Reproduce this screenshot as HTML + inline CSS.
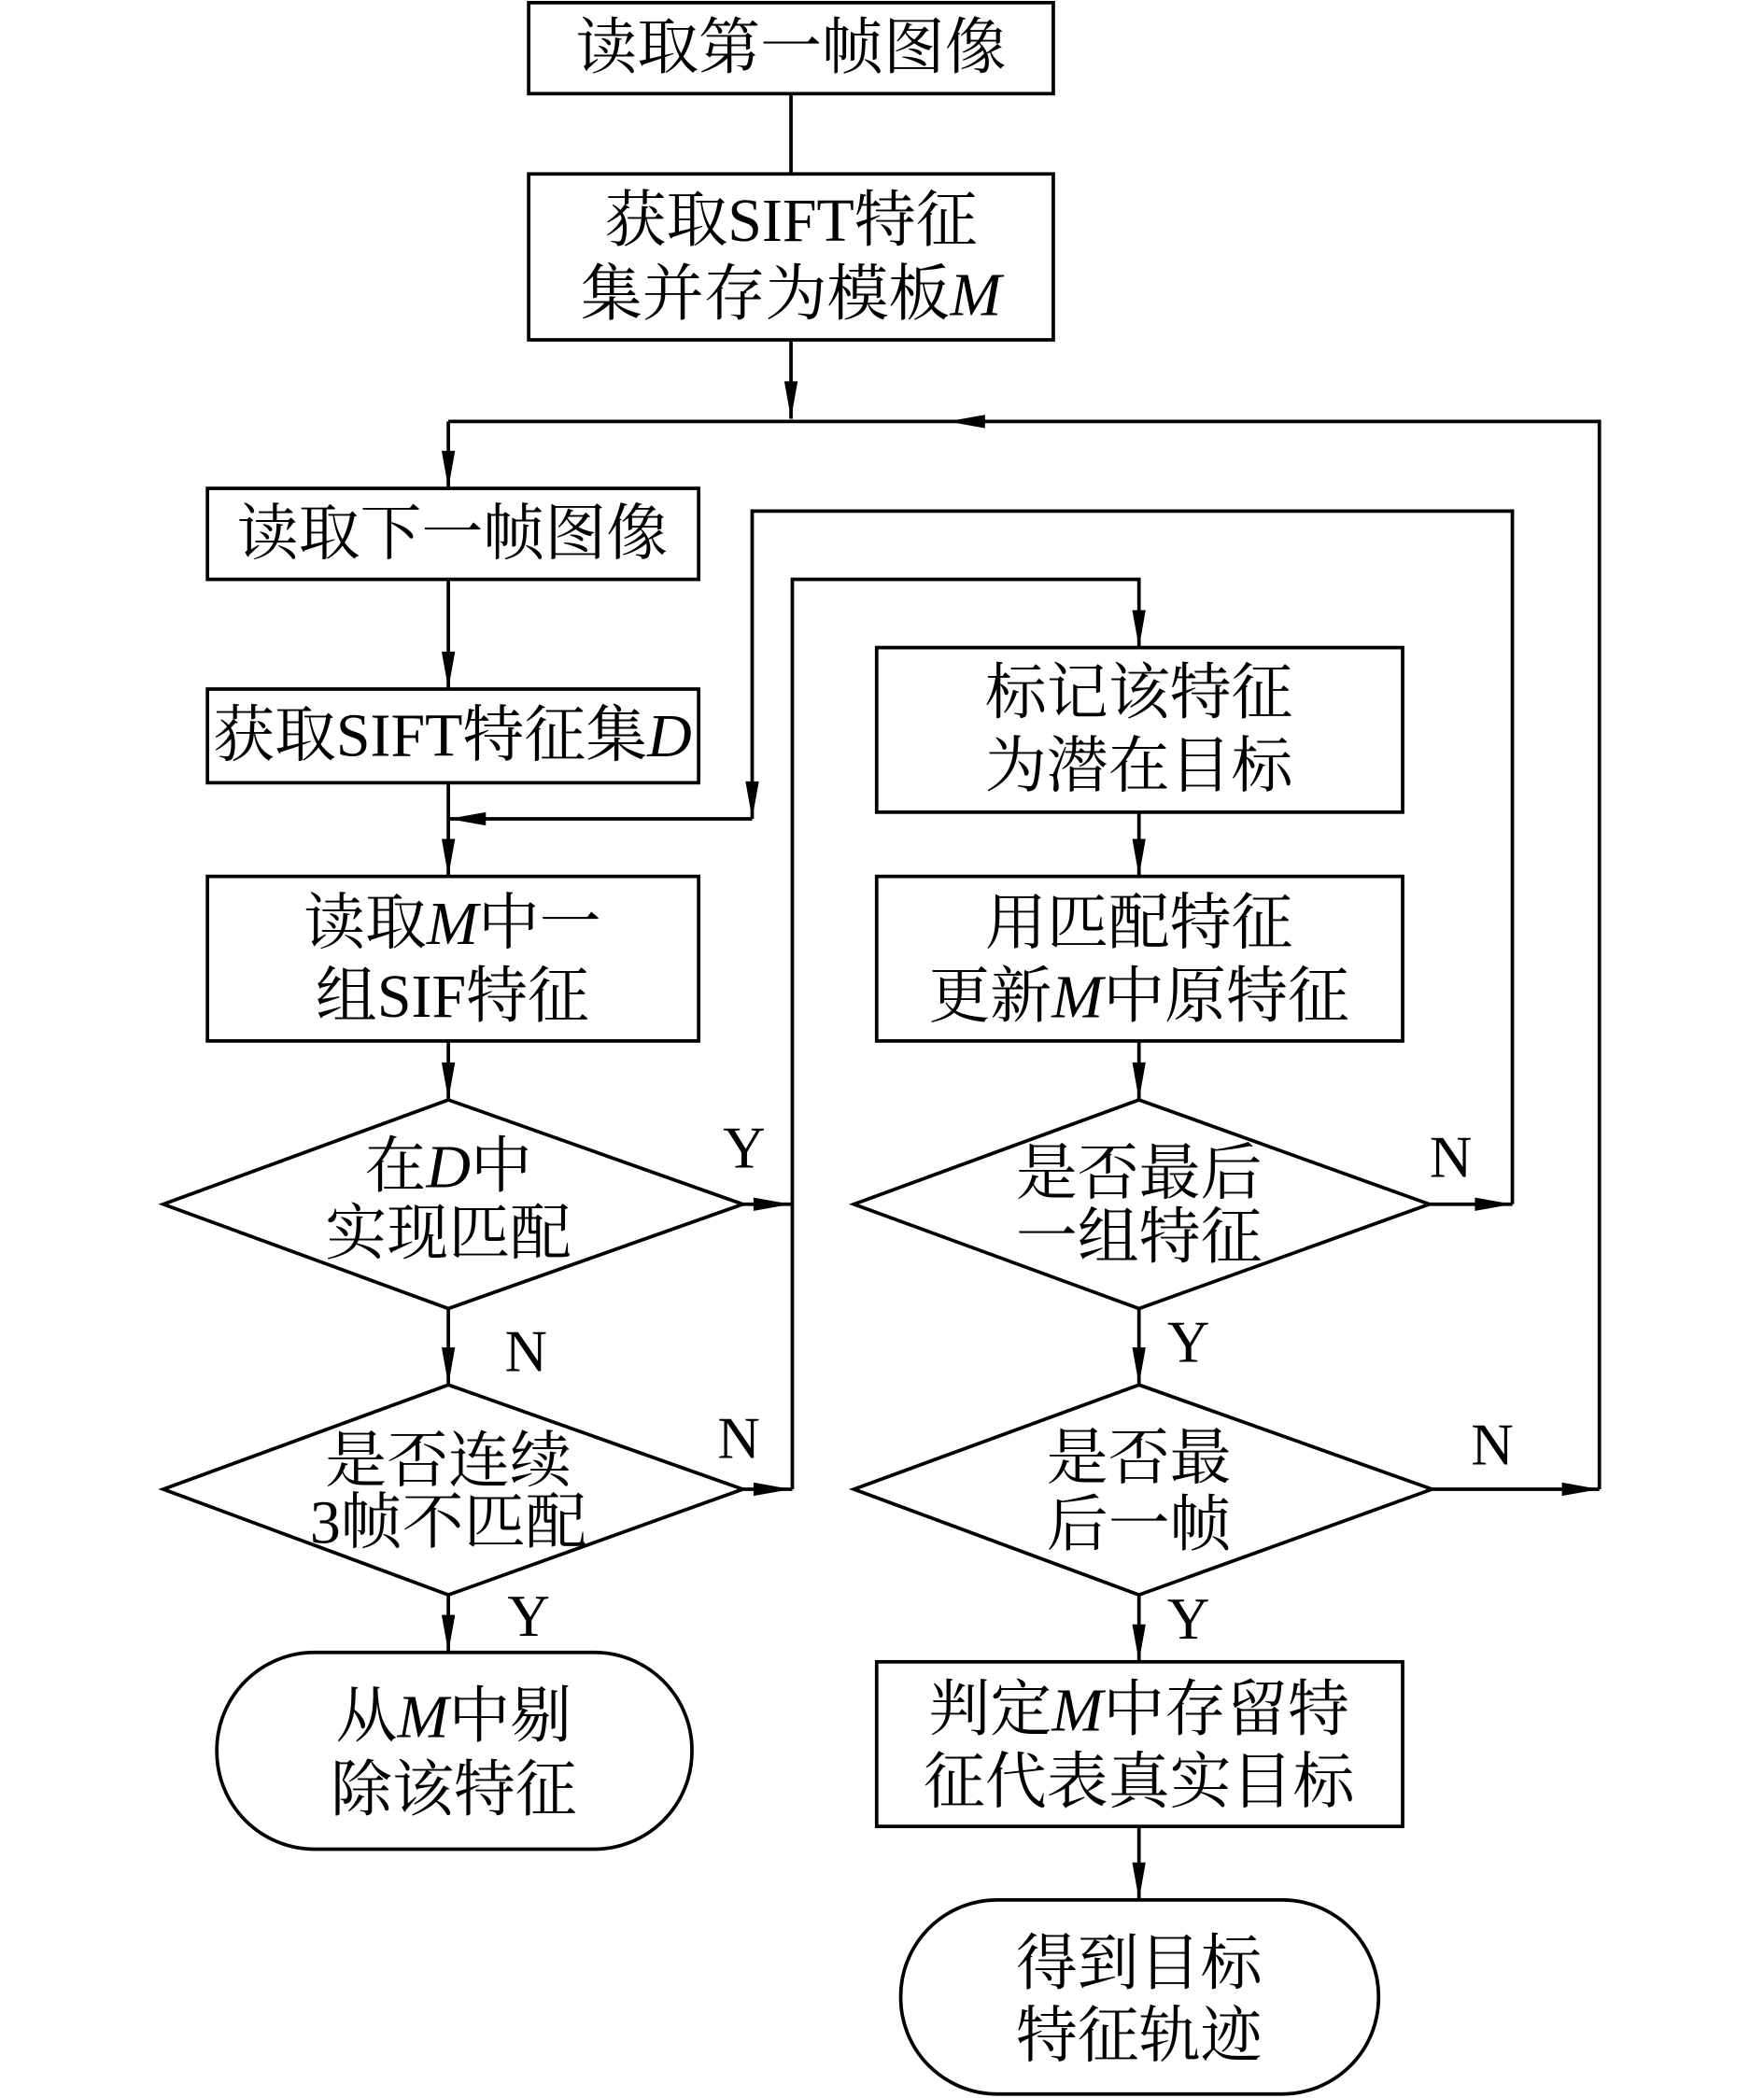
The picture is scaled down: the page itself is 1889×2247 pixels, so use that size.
<!DOCTYPE html>
<html><head><meta charset="utf-8"><style>
html,body{margin:0;padding:0;background:#fff;}
svg{display:block;}
text{font-family:"Liberation Serif","Noto Serif CJK SC",serif;font-size:46px;fill:#000;text-anchor:middle;dominant-baseline:central;}
.l{font-size:44px;}
</style></head><body>
<svg width="1889" height="2247" viewBox="0 0 1318 1568" preserveAspectRatio="none" xmlns="http://www.w3.org/2000/svg">
<g fill="none" stroke="#000" stroke-width="2.6">
<rect x="395" y="2" width="392" height="68"/>
<rect x="395" y="130" width="392" height="124"/>
<rect x="155" y="365" width="367" height="68"/>
<rect x="155" y="515" width="367" height="70"/>
<rect x="155" y="655" width="367" height="123"/>
<polygon points="335,822 555,900 335,978 122,900"/>
<polygon points="335,1035 555,1113 335,1192 122,1113"/>
<rect x="162" y="1235" width="355" height="147" rx="73"/>
<rect x="655" y="484" width="393" height="123"/>
<rect x="655" y="655" width="393" height="123"/>
<polygon points="851,822 1068,900 851,978 638,900"/>
<polygon points="851,1035 1070,1113 851,1192 638,1113"/>
<rect x="655" y="1242" width="393" height="123"/>
<rect x="673" y="1420" width="357" height="145" rx="72"/>
<!-- connectors -->
<path d="M591 70V130"/>
<path d="M591 254V313"/>
<path d="M335 315H1195V1113"/>
<path d="M335 315V365"/>
<path d="M335 433V515"/>
<path d="M335 585V655"/>
<path d="M562 612H335"/>
<path d="M562 612V382H1130V900"/>
<path d="M1068 900H1130"/>
<path d="M1070 1113H1195"/>
<path d="M335 778V822"/>
<path d="M555 900H592"/>
<path d="M592 1113V433H851V484"/>
<path d="M555 1113H592"/>
<path d="M335 978V1035"/>
<path d="M335 1192V1235"/>
<path d="M851 607V655"/>
<path d="M851 778V822"/>
<path d="M851 978V1035"/>
<path d="M851 1192V1242"/>
<path d="M851 1365V1420"/>
</g>
<g fill="#000">
<polygon points="586,285 596,285 591,313"/>
<polygon points="330,337 340,337 335,365"/>
<polygon points="330,487 340,487 335,515"/>
<polygon points="330,627 340,627 335,655"/>
<polygon points="330,794 340,794 335,822"/>
<polygon points="330,1007 340,1007 335,1035"/>
<polygon points="330,1207 340,1207 335,1235"/>
<polygon points="846,456 856,456 851,484"/>
<polygon points="846,627 856,627 851,655"/>
<polygon points="846,794 856,794 851,822"/>
<polygon points="846,1007 856,1007 851,1035"/>
<polygon points="846,1214 856,1214 851,1242"/>
<polygon points="846,1392 856,1392 851,1420"/>
<polygon points="557,584 567,584 562,612"/>
<polygon points="363,607 363,617 335,612"/>
<polygon points="736,310 736,320 708,315"/>
<polygon points="563,895 563,905 591,900"/>
<polygon points="563,1108 563,1118 591,1113"/>
<polygon points="1102,895 1102,905 1130,900"/>
<polygon points="1167,1108 1167,1118 1195,1113"/>
</g>
<text x="591" y="36">读取第一帧图像</text>
<text x="591" y="165">获取SIFT特征</text>
<text x="591" y="220">集并存为模板<tspan font-style="italic">M</tspan></text>
<text x="338" y="399">读取下一帧图像</text>
<text x="338" y="550">获取SIFT特征集<tspan font-style="italic">D</tspan></text>
<text x="338" y="690">读取<tspan font-style="italic">M</tspan>中一</text>
<text x="338" y="745">组SIF特征</text>
<text x="335" y="872">在<tspan font-style="italic">D</tspan>中</text>
<text x="335" y="922">实现匹配</text>
<text x="335" y="1092">是否连续</text>
<text x="335" y="1138">3帧不匹配</text>
<text x="339" y="1283">从<tspan font-style="italic">M</tspan>中剔</text>
<text x="339" y="1338">除该特征</text>
<text x="851" y="518">标记该特征</text>
<text x="851" y="573">为潜在目标</text>
<text x="851" y="690">用匹配特征</text>
<text x="851" y="745">更新<tspan font-style="italic">M</tspan>中原特征</text>
<text x="851" y="877">是否最后</text>
<text x="851" y="925">一组特征</text>
<text x="851" y="1090">是否最</text>
<text x="851" y="1140">后一帧</text>
<text x="851" y="1278">判定<tspan font-style="italic">M</tspan>中存留特</text>
<text x="851" y="1332">征代表真实目标</text>
<text x="851" y="1468">得到目标</text>
<text x="851" y="1522">特征轨迹</text>
<text class="l" x="556" y="858">Y</text>
<text class="l" x="393" y="1010">N</text>
<text class="l" x="552" y="1075">N</text>
<text class="l" x="395" y="1208">Y</text>
<text class="l" x="1084" y="865">N</text>
<text class="l" x="888" y="1003">Y</text>
<text class="l" x="1115" y="1080">N</text>
<text class="l" x="888" y="1210">Y</text>
</svg>
</body></html>
